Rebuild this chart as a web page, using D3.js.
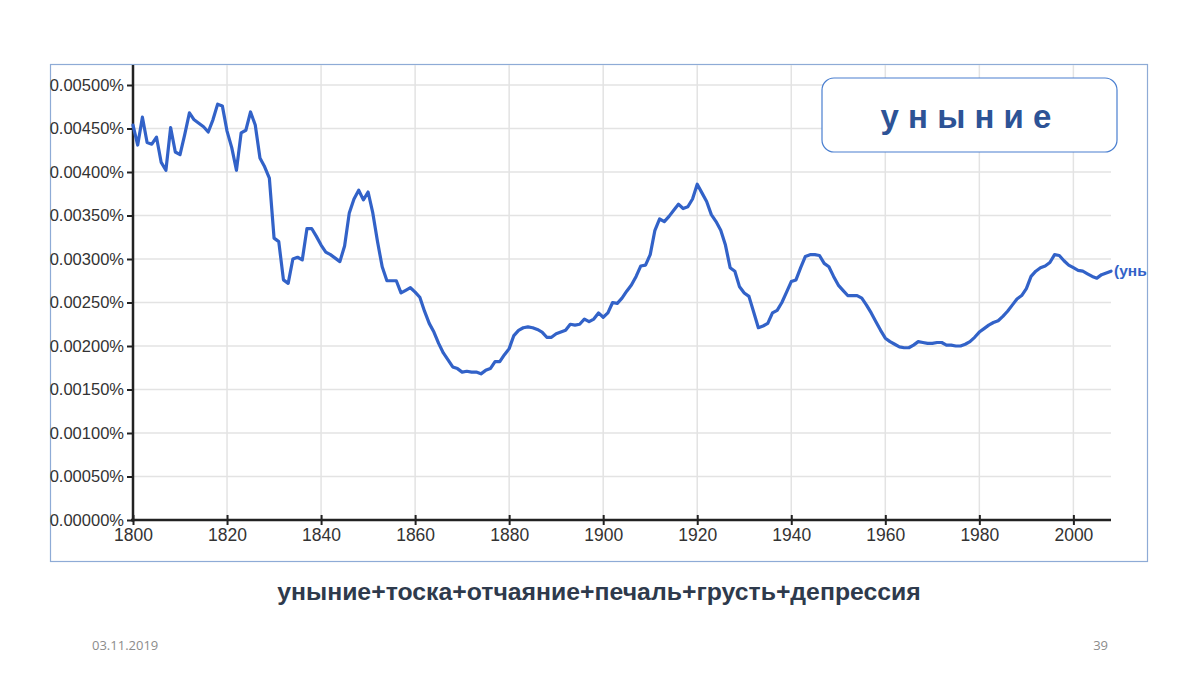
<!DOCTYPE html>
<html><head><meta charset="utf-8">
<script src="https://cdn.jsdelivr.net/npm/d3@7"></script>
<style>
html,body{margin:0;padding:0;background:#fff;}
svg{display:block;font-family:"Liberation Sans",Arial,sans-serif;}
</style></head>
<body>
<svg id="c" width="1200" height="675"></svg>
<script>
// ---- data ----
const startYear = 1800;
const endYear = 2008;
// frequency values in percent (0.00454 = 0.00454%)
const values = [
 0.00454,0.00431,0.00463,0.00434,0.00432,0.00440,0.00411,0.00402,0.00451,0.00423,
 0.00420,0.00443,0.00468,0.00460,0.00456,0.00452,0.00446,0.00460,0.00478,0.00476,
 0.00447,0.00428,0.00402,0.00445,0.00448,0.00469,0.00454,0.00416,0.00406,0.00393,
 0.00324,0.00320,0.00276,0.00272,0.00300,0.00302,0.00299,0.00335,0.00335,0.00326,
 0.00316,0.00308,0.00305,0.00301,0.00297,0.00315,0.00353,0.00369,0.00379,0.00368,
 0.00377,0.00353,0.00320,0.00291,0.00275,0.00275,0.00275,0.00261,0.00264,0.00267,
 0.00262,0.00256,0.00240,0.00226,0.00216,0.00203,0.00192,0.00184,0.00176,0.00174,
 0.00170,0.00171,0.00170,0.00170,0.00168,0.00172,0.00174,0.00182,0.00182,0.00190,
 0.00197,0.00212,0.00218,0.00221,0.00222,0.00221,0.00219,0.00216,0.00210,0.00210,
 0.00214,0.00216,0.00218,0.00225,0.00224,0.00225,0.00231,0.00228,0.00231,0.00238,
 0.00233,0.00238,0.00250,0.00249,0.00255,0.00263,0.00270,0.00280,0.00292,0.00293,
 0.00305,0.00333,0.00346,0.00343,0.00349,0.00356,0.00363,0.00358,0.00360,0.00369,
 0.00386,0.00376,0.00366,0.00351,0.00343,0.00333,0.00316,0.00290,0.00286,0.00268,
 0.00261,0.00257,0.00239,0.00221,0.00223,0.00226,0.00238,0.00241,0.00250,0.00262,
 0.00274,0.00276,0.00290,0.00303,0.00305,0.00305,0.00304,0.00295,0.00291,0.00280,
 0.00270,0.00264,0.00258,0.00258,0.00258,0.00255,0.00247,0.00238,0.00228,0.00218,
 0.00209,0.00205,0.00202,0.00199,0.00198,0.00198,0.00201,0.00205,0.00204,0.00203,
 0.00203,0.00204,0.00204,0.00201,0.00201,0.00200,0.00200,0.00202,0.00205,0.00210,
 0.00216,0.00220,0.00224,0.00227,0.00229,0.00234,0.00240,0.00247,0.00254,0.00258,
 0.00266,0.00280,0.00286,0.00290,0.00292,0.00296,0.00305,0.00304,0.00298,0.00293,
 0.00290,0.00287,0.00286,0.00283,0.00280,0.00278,0.00282,0.00284,0.00286
];
const years = d3.range(startYear, endYear + 1);
const yTicks = [0,0.0005,0.001,0.0015,0.002,0.0025,0.003,0.0035,0.004,0.0045,0.005];
const xTicks = [1800,1820,1840,1860,1880,1900,1920,1940,1960,1980,2000];
const titleText = "у н ы н и е";
const seriesLabel = "(унь";
const caption = "уныние+тоска+отчаяние+печаль+грусть+депрессия";
const dateText = "03.11.2019";
const pageText = "39";

const data = years.map((y,i)=>({year:y, v:values[i]}));

// ---- layout ----
const svg = d3.select("#c");
const plot = {left:133, right:1111, top:65, bottom:520};
const x = d3.scaleLinear().domain([startYear, endYear]).range([plot.left, plot.right]);
const y = d3.scaleLinear().domain([0, 0.005]).range([plot.bottom, 85]);

// frame
svg.append("rect").attr("x",50.5).attr("y",64.5).attr("width",1097).attr("height",497)
  .attr("fill","#fff").attr("stroke","#8eabd6").attr("stroke-width",1.2);

// grid
const g = svg.append("g");
g.selectAll("line.hg").data(yTicks.slice(1)).join("line")
  .attr("x1",plot.left).attr("x2",plot.right)
  .attr("y1",d=>y(d)).attr("y2",d=>y(d))
  .attr("stroke","#e3e3e3").attr("stroke-width",1.5);
g.selectAll("line.vg").data(xTicks.slice(1)).join("line")
  .attr("x1",d=>x(d)).attr("x2",d=>x(d))
  .attr("y1",plot.top).attr("y2",plot.bottom)
  .attr("stroke","#e3e3e3").attr("stroke-width",1.5);

// axes
const fmt = d => d3.format(".5f")(d) + "%";
const yAxis = svg.append("g").attr("transform",`translate(${plot.left},0)`)
  .call(d3.axisLeft(y).tickValues(yTicks).tickFormat(fmt).tickSize(6).tickPadding(3));
yAxis.select(".domain").remove();
yAxis.selectAll(".tick line").attr("stroke","#222").attr("stroke-width",2);
yAxis.selectAll("text").attr("fill","#333").attr("font-size","16.5px")
  .attr("font-family","'Liberation Sans',Arial,sans-serif");
svg.append("line").attr("x1",plot.left).attr("x2",plot.left)
  .attr("y1",plot.top).attr("y2",plot.bottom+1.5).attr("stroke","#222").attr("stroke-width",2.5);

const xAxis = svg.append("g").attr("transform",`translate(0,${plot.bottom})`)
  .call(d3.axisBottom(x).tickValues(xTicks).tickFormat(d3.format("d")).tickSize(5).tickPadding(4));
xAxis.select(".domain").remove();
xAxis.selectAll(".tick line").attr("stroke","#222").attr("stroke-width",2).attr("y1",-5);
xAxis.selectAll("text").attr("fill","#333").attr("font-size","17.5px")
  .attr("font-family","'Liberation Sans',Arial,sans-serif");
svg.append("line").attr("x1",plot.left-2).attr("x2",plot.right)
  .attr("y1",plot.bottom).attr("y2",plot.bottom).attr("stroke","#222").attr("stroke-width",2.5);

// series line
const line = d3.line().x(d=>x(d.year)).y(d=>y(d.v));
svg.append("path").datum(data).attr("d",line)
  .attr("fill","none").attr("stroke","#3262c8").attr("stroke-width",3.2)
  .attr("stroke-linejoin","round").attr("stroke-linecap","round");

// end label
const last = data[data.length-1];
svg.append("text").attr("x",x(last.year)+3).attr("y",y(last.v)+5)
  .attr("fill","#3262c8").attr("font-weight","bold").attr("font-size","15.5px")
  .text(seriesLabel);

// title box
svg.append("rect").attr("x",822).attr("y",78).attr("width",295).attr("height",74)
  .attr("rx",12).attr("ry",12).attr("fill","#fff").attr("stroke","#4a7fd0").attr("stroke-width",1.2);
svg.append("text").attr("x",966).attr("y",128).attr("text-anchor","middle")
  .attr("fill","#2d5396").attr("font-weight","bold").attr("font-size","33px")
  .attr("font-family","'Liberation Sans',Arial,sans-serif").text(titleText);

// caption
svg.append("text").attr("x",599).attr("y",600).attr("text-anchor","middle")
  .attr("fill","#2e3a4c").attr("font-weight","bold").attr("font-size","24.8px")
  .text(caption);

// footer
svg.append("text").attr("x",92).attr("y",650).attr("fill","#8c8c8c").attr("font-size","13px")
  .attr("font-family","'Open Sans','Liberation Sans',sans-serif").text(dateText);
svg.append("text").attr("x",1108).attr("y",650).attr("text-anchor","end").attr("fill","#8c8c8c").attr("font-size","13px")
  .attr("font-family","'Open Sans','Liberation Sans',sans-serif").text(pageText);
</script>
</body></html>
